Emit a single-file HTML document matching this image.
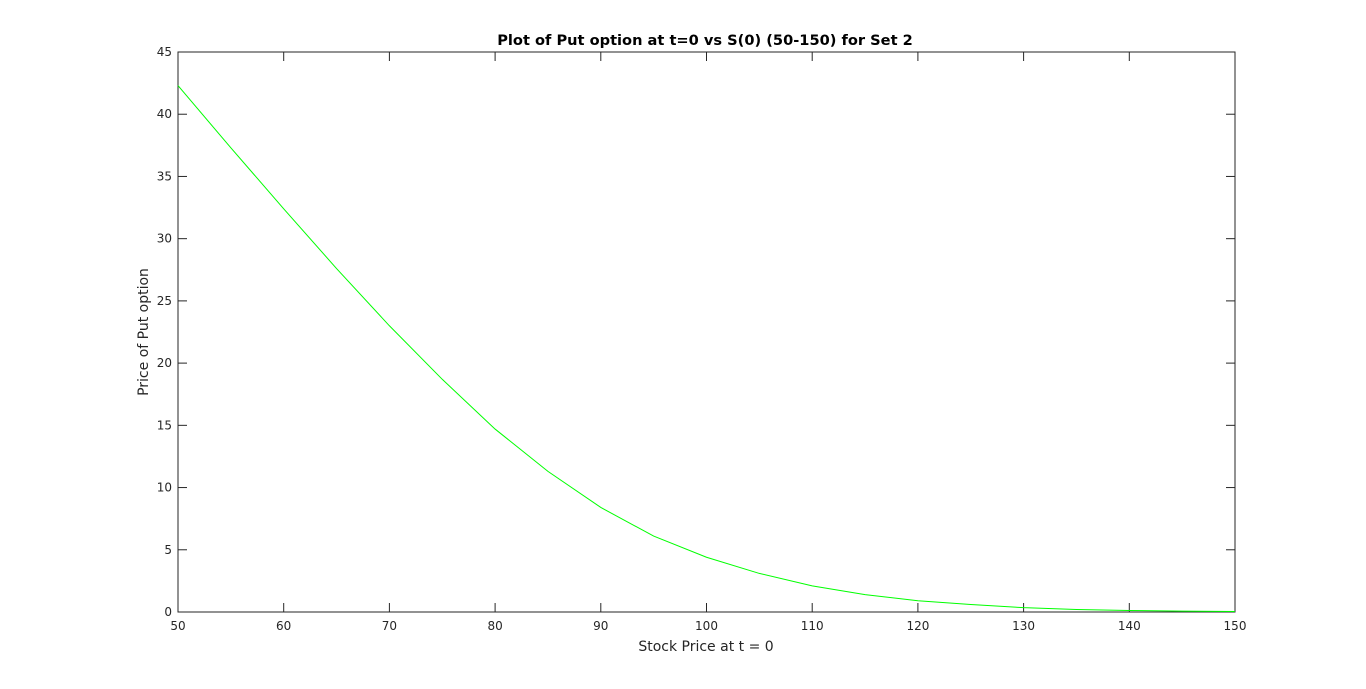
<!DOCTYPE html>
<html><head><meta charset="utf-8"><style>
html,body{margin:0;padding:0;background:#fff;width:1366px;height:689px;overflow:hidden}
text{font-family:"DejaVu Sans","Liberation Sans",sans-serif;fill:#262626}
</style></head><body>
<svg id="chart" width="1366" height="689" xmlns="http://www.w3.org/2000/svg">
<rect x="0" y="0" width="1366" height="689" fill="#fff"/>
<g id="axes"></g>
<text x="705" y="45" text-anchor="middle" font-size="14.6" font-weight="bold" style="fill:#000">Plot of Put option at t=0 vs S(0) (50-150) for Set 2</text>
<text x="706" y="651" text-anchor="middle" font-size="14">Stock Price at t = 0</text>
<text transform="translate(148,332) rotate(-90)" text-anchor="middle" font-size="14">Price of Put option</text>
</svg>
<script>
const stockPrices=[50,55,60,65,70,75,80,85,90,95,100,105,110,115,120,125,130,135,140,145,150];
const putPrices=[42.3,37.3,32.4,27.6,23.0,18.7,14.7,11.3,8.4,6.1,4.4,3.1,2.1,1.4,0.9,0.6,0.35,0.2,0.12,0.07,0.04];
const xTicks=[50,60,70,80,90,100,110,120,130,140,150];
const yTicks=[0,5,10,15,20,25,30,35,40,45];
const L=178,R=1235,T=52,B=612;
const xs=v=>L+(v-50)/100*(R-L);
const ys=v=>B-v/45*(B-T);
const NS="http://www.w3.org/2000/svg";
const g=document.getElementById('axes');
function mk(tag,attrs){const e=document.createElementNS(NS,tag);for(const k in attrs)e.setAttribute(k,attrs[k]);g.appendChild(e);return e;}
const box=mk('rect',{x:L,y:T,width:R-L,height:B-T,fill:'none',stroke:'#262626','stroke-width':1});


xTicks.forEach(v=>{
  const x=xs(v);
  const t1=mk('line',{x1:x,y1:B,x2:x,y2:B-9,stroke:'#262626'});
  
  
  const t2=mk('line',{x1:x,y1:T,x2:x,y2:T+9,stroke:'#262626'});
  
  
  const tx=mk('text',{x:x,y:B+18,'text-anchor':'middle','font-size':12});
  tx.textContent=v;
  
  
});
yTicks.forEach(v=>{
  const y=ys(v);
  const t1=mk('line',{x1:L,y1:y,x2:L+9,y2:y,stroke:'#262626'});
  
  
  const t2=mk('line',{x1:R,y1:y,x2:R-9,y2:y,stroke:'#262626'});
  
  
  const tx=mk('text',{x:L-6,y:y+4,'text-anchor':'end','font-size':12});
  tx.textContent=v;
  
  
});
const pts=stockPrices.map((s,i)=>xs(s)+','+ys(putPrices[i])).join(' ');
const line=mk('polyline',{points:pts,fill:'none',stroke:'#00ff00','stroke-width':1});


</script>
</body></html>
